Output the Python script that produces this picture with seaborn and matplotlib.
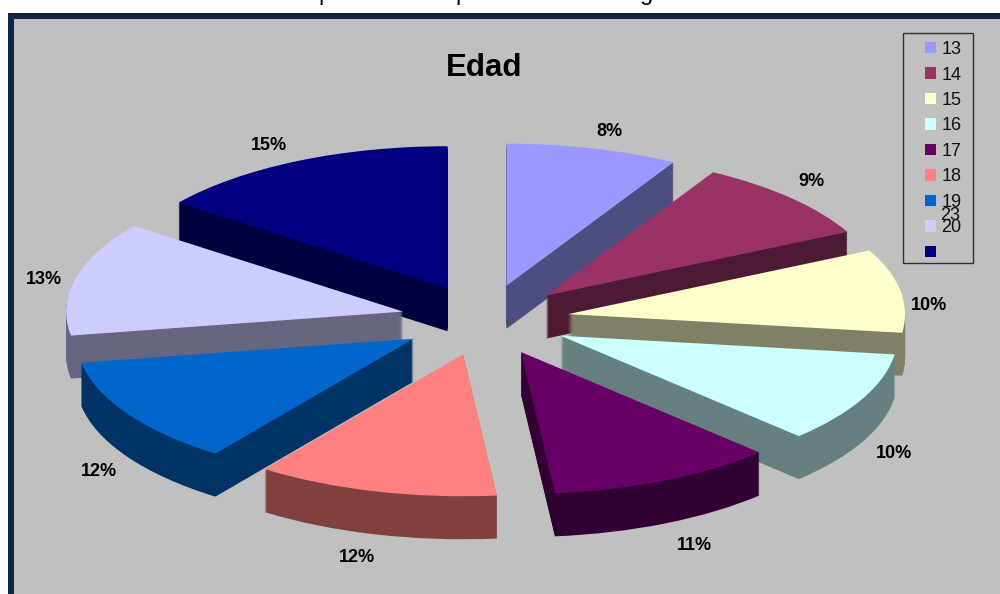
import matplotlib
matplotlib.use("Agg")
import matplotlib.pyplot as plt
from matplotlib.patches import Rectangle
import seaborn as sns

ages = ["13", "14", "15", "16", "17", "18", "19", "20", ""]
extra_age = "23"
percent = [8.25, 9.35, 9.5, 10.4, 10.9, 11.6, 12.3, 13.0, 14.7]
hex_colors = ["#9999FF", "#993366", "#FFFFCC", "#CCFFFF", "#660066",
              "#FF8080", "#0066CC", "#CCCCFF", "#000080"]
title = "Edad"

sns.set_theme(style="white")
plt.rcParams["font.family"] = ["Liberation Sans", "DejaVu Sans"]

W, H = 1000, 594
CX, CY, RX, RY = 485, 320, 337, 142
DEPTH = 43
EXPLODE = 0.25

top_colors = sns.color_palette(hex_colors)
side_colors = [tuple(c * 0.5 for c in col) for col in top_colors]

fig = plt.figure(figsize=(W / 100, H / 100), dpi=100, facecolor="white")

def fx(px):
    return px / W

def fy(py):
    return 1 - py / H

# frame and plot background, behind the axes
fig.add_artist(Rectangle((fx(7.5), 0), 1, fy(13), transform=fig.transFigure,
                         facecolor="#0F2744", edgecolor="none", zorder=-2))
fig.add_artist(Rectangle((fx(13.5), 0), 1, fy(19), transform=fig.transFigure,
                         facecolor="#C0C0C0", edgecolor="none", zorder=-1))

ax = fig.add_axes([0, 0, 1, 1])
ax.patch.set_alpha(0)

explode = [EXPLODE] * len(percent)
for d in range(DEPTH, 0, -1):
    ax.pie(percent, colors=side_colors, explode=explode, startangle=90,
           counterclock=False, center=(0, -d / RY), normalize=True,
           wedgeprops={"linewidth": 0.6, "edgecolor": "none", "antialiased": True})
ax.pie(percent, colors=top_colors, explode=explode, startangle=90,
       counterclock=False, center=(0, 0), normalize=True,
       wedgeprops={"linewidth": 0, "edgecolor": "none"})

ax.set_aspect("auto")
ax.set_xlim(-CX / RX, (W - CX) / RX)
ax.set_ylim((CY - H) / RY, CY / RY)
ax.axis("off")

# percentage labels
label_xy = [(609, 131), (811, 181), (929, 306), (894, 453), (694, 545),
            (357, 557), (99, 472), (44, 279), (269, 145)]
for v, (px, py) in zip(percent, label_xy):
    fig.text(fx(px), fy(py), f"{v:.0f}%", ha="center", va="center",
             fontsize=13, fontweight="bold", color="black")

fig.text(fx(484.5), fy(68), title, ha="center", va="center",
         fontsize=22.5, fontweight="bold", color="black")

# legend
fig.add_artist(Rectangle((fx(902.5), fy(263)), fx(70.5), 230 / H, transform=fig.transFigure,
                         facecolor="none", edgecolor="#303030", linewidth=1.0, zorder=2))
handles = [Rectangle((0, 0), 1, 1, facecolor=c, edgecolor="none") for c in top_colors]
leg = fig.legend(handles, ages, loc="upper left",
                 bbox_to_anchor=(fx(916), fy(32)), bbox_transform=fig.transFigure,
                 fontsize=13, frameon=False, labelspacing=0.47, handlelength=0.61,
                 handleheight=0.61, handletextpad=0.3, borderpad=0.5,
                 borderaxespad=0, labelcolor="#111111")
fig.text(fx(950), fy(215), extra_age, ha="center", va="center",
         fontsize=13, color="#111111")

# descenders of a heading cut off by the top of the picture
for ch, px in zip("ppg", (325, 462, 647)):
    fig.text(fx(px), fy(0), ch, ha="center", va="baseline", fontsize=17, color="black")

fig.savefig("out.png", dpi=100, facecolor=fig.get_facecolor())
